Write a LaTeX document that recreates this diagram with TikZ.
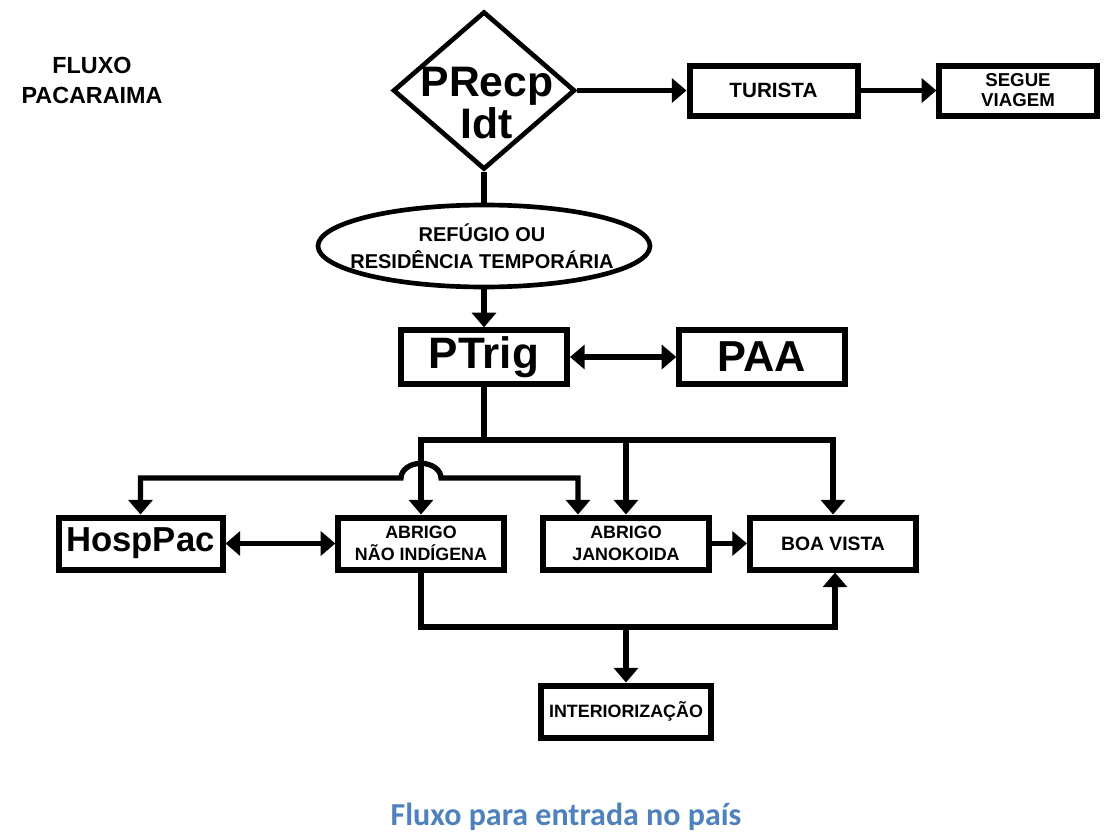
\documentclass[tikz,border=0pt]{standalone}
\usepackage{fontspec}
\setmainfont{Liberation Sans}
\newfontfamily\captionfont{Carlito}
\usetikzlibrary{shapes.geometric, arrows.meta}
\definecolor{CaptionBlue}{RGB}{79,129,189}
\tikzset{
    box/.style={draw, rectangle, line width=4.5pt, inner sep=0pt, align=center, font=\bfseries},
    link/.style={line width=4pt},
    >={Triangle[length=11pt,width=18pt]}
}

\begin{document}
\begin{tikzpicture}[x=0.75pt, y=-0.75pt]
    \useasboundingbox[fill=white] (0,0) rectangle (1104,832);
    \node[font=\bfseries\fontsize{17.5}{22.5}\selectfont, align=center] (title) at (92,80) {FLUXO\\PACARAIMA};
    % top row
    \node[draw, diamond, line width=3.5pt, minimum width=136.5pt, minimum height=118.5pt, inner sep=0pt] (recp) at (484,90.5) {};
    \node[font=\bfseries\fontsize{32}{26}\selectfont, align=center] (recptxt) at (487,103) {PRecp\\Idt};
    \node[box, minimum width=126pt, minimum height=37.5pt, font=\bfseries\fontsize{15.5}{18}\selectfont] (turista) at (773.5,90.5) {TURISTA};
    \node[box, minimum width=118pt, minimum height=37.5pt, font=\bfseries\fontsize{14}{15}\selectfont] (segue) at (1018,90.5) {SEGUE\\VIAGEM};
    \draw[link, ->] (recp.east) -- (turista.west);
    \draw[link, ->] (turista.east) -- (segue.west);
    % refugio
    \node[draw, ellipse, line width=3.5pt, minimum width=249pt, minimum height=61.5pt, inner sep=0pt] (refugio) at (484,246) {};
    \node[font=\bfseries\fontsize{15}{20}\selectfont, align=center] (refugiotxt) at (482,246) {REFÚGIO OU\\RESIDÊNCIA TEMPORÁRIA};
    \draw[link] (recp.south) -- (refugio.north);
    % PTrig row
    \node[box, minimum width=124.5pt, minimum height=40pt, font=\bfseries\fontsize{33}{36}\selectfont] (ptrig) at (484,357) {PTrig};
    \node[box, minimum width=124pt, minimum height=40pt, font=\bfseries\fontsize{32.5}{36}\selectfont] (paa) at (762,357) {PAA};
    \draw[link, ->] (refugio.south) -- (ptrig.north);
    \draw[link, <->] (ptrig.east) -- (paa.west);
    % abrigos
    \node[box, minimum width=123pt, minimum height=39pt, font=\bfseries\fontsize{26}{30}\selectfont] (hosp) at (140.5,543.5) {HospPac};
    \node[box, minimum width=124pt, minimum height=39pt, font=\bfseries\fontsize{13.4}{16}\selectfont] (naoind) at (421,543.5) {ABRIGO\\NÃO INDÍGENA};
    \node[box, minimum width=125pt, minimum height=39pt, font=\bfseries\fontsize{13.4}{16}\selectfont] (janok) at (626,543.5) {ABRIGO\\JANOKOIDA};
    \node[box, minimum width=124.5pt, minimum height=39pt, font=\bfseries\fontsize{14.5}{17}\selectfont] (boavista) at (833,543.5) {BOA VISTA};
    \node[box, minimum width=127pt, minimum height=39pt, font=\bfseries\fontsize{13.4}{16}\selectfont] (interior) at (626,711.5) {INTERIORIZAÇÃO};
    \coordinate (upline) at (484,440);
    \coordinate (lowline) at (626,627);
    \draw[link] (ptrig.south) -- (upline);
    \draw[link, ->] (upline) -| (naoind.north);
    \draw[link, ->] (upline) -| (boavista.north);
    \draw[link, ->] (janok.north |- upline) -- (janok.north);
    \draw[link, <->] (hosp.north) |- (401,478) arc[start angle=180, end angle=0, x radius=15pt, y radius=11pt] -| ([xshift=-36pt]janok.north);
    \draw[link, <->] (hosp.east) -- (naoind.west);
    \draw[link, ->] (janok.east) -- (boavista.west);
    \draw[link, ->] (naoind.south) |- (lowline) -| ([xshift=1.5pt]boavista.south);
    \draw[link, ->] (lowline) -- (interior.north);
    % caption
    \node[font=\captionfont\bfseries\fontsize{24}{28}\selectfont, text=CaptionBlue, anchor=base] (caption) at (566,825) {Fluxo para entrada no país};
\end{tikzpicture}
\end{document}
